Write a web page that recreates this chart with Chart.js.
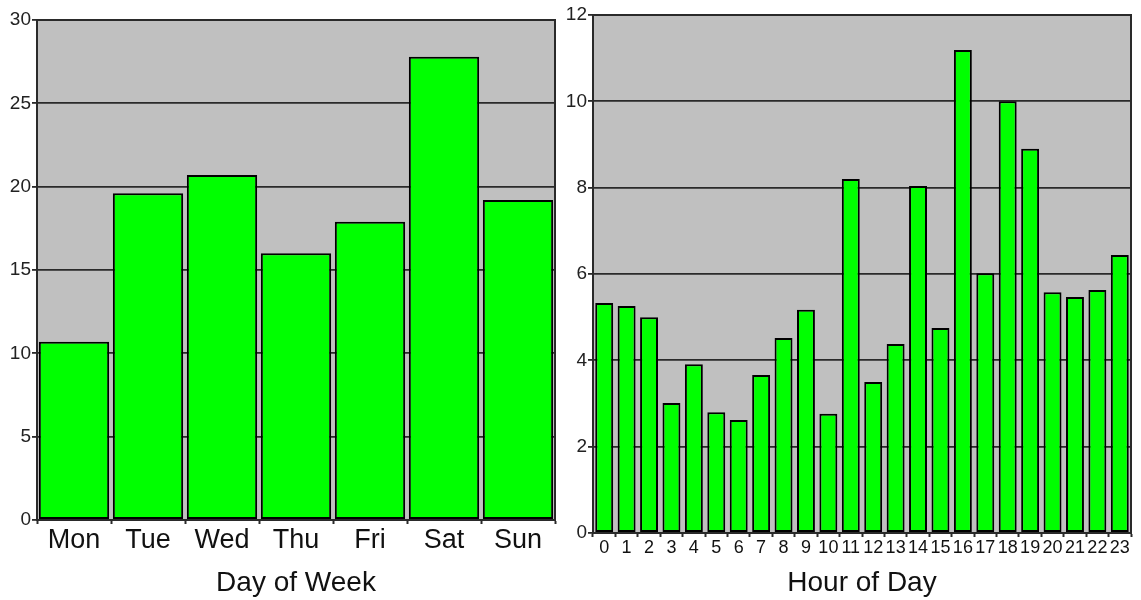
<!DOCTYPE html>
<html>
<head>
<meta charset="utf-8">
<script src="https://cdn.jsdelivr.net/npm/chart.js@4"></script>
<style>
  body { margin: 0; background: #fff; }
  .box { position: absolute; top: 0; height: 600px; }
  #left { left: 0; width: 565px; }
  #right { left: 565px; width: 576px; }
</style>
</head>
<body>
<div class="box" id="left"><canvas id="day-chart"></canvas></div>
<div class="box" id="right"><canvas id="hour-chart"></canvas></div>
<script>
// data
const dayLabels = ['Mon', 'Tue', 'Wed', 'Thu', 'Fri', 'Sat', 'Sun'];
const dayValues = [10.7, 19.6, 20.7, 16.0, 17.9, 27.8, 19.2];

const hourLabels = ['0', '1', '2', '3', '4', '5', '6', '7', '8', '9', '10', '11',
    '12', '13', '14', '15', '16', '17', '18', '19', '20', '21', '22', '23'];
const hourValues = [5.33, 5.26, 5.0, 3.01, 3.91, 2.8, 2.62, 3.66, 4.52, 5.17, 2.76, 8.2,
    3.5, 4.38, 8.04, 4.75, 11.19, 6.02, 10.0, 8.9, 5.58, 5.47, 5.63, 6.44];

// gray plot background + dark frame
const plotBackground = {
    id: 'plotBackground',
    beforeDraw(chart) {
        const { ctx, chartArea: a } = chart;
        ctx.save();
        ctx.fillStyle = '#c0c0c0';
        ctx.fillRect(a.left, a.top, a.right - a.left, a.bottom - a.top);
        ctx.restore();
    },
    afterDatasetsDraw(chart) {
        const { ctx, chartArea: a } = chart;
        ctx.save();
        ctx.strokeStyle = '#2a2a2a';
        ctx.lineWidth = 2;
        ctx.strokeRect(a.left, a.top, a.right - a.left, a.bottom - a.top);
        ctx.restore();
    }
};

function createBarChart(id, labels, values, opts) {
    const ctx = document.getElementById(id).getContext('2d');
    return new Chart(ctx, {
        type: 'bar',
        data: {
            labels: labels,
            datasets: [{
                data: values,
                backgroundColor: '#00ff00',
                borderColor: '#000',
                borderWidth: 2,
                borderSkipped: false,
                barPercentage: opts.barPct,
                categoryPercentage: 1
            }]
        },
        options: {
            responsive: true,
            maintainAspectRatio: false,
            animation: false,
            layout: { padding: { top: opts.top, right: opts.right, left: 0, bottom: 0 } },
            plugins: { legend: { display: false }, tooltip: { enabled: false } },
            scales: {
                x: {
                    grid: { drawOnChartArea: false, color: '#2a2a2a', tickLength: 4, tickWidth: 2 },
                    border: { color: '#2a2a2a', width: 2 },
                    ticks: {
                        autoSkip: false, maxRotation: 0, padding: 0,
                        color: '#111',
                        font: { family: 'Liberation Sans, Arial', size: opts.xFont }
                    },
                    title: {
                        display: true, text: opts.title, color: '#111', padding: { top: 4, bottom: 0 },
                        font: { family: 'Liberation Sans, Arial', size: 28 }
                    },
                    afterFit(scale) { scale.height = opts.xHeight; }
                },
                y: {
                    min: 0, max: opts.max,
                    grid: { color: '#2a2a2a', lineWidth: 1.8, tickLength: 5 },
                    border: { color: '#2a2a2a', width: 2 },
                    ticks: {
                        stepSize: opts.step, padding: 1,
                        color: '#222',
                        font: { family: 'Liberation Sans, Arial', size: 19 }
                    },
                    afterFit(scale) { scale.width = opts.yWidth; }
                }
            }
        },
        plugins: [plotBackground]
    });
}

createBarChart('day-chart', dayLabels, dayValues, {
    title: 'Day of Week', max: 30, step: 5, barPct: 0.95,
    xFont: 27, top: 20, right: 10, xHeight: 80, yWidth: 37
});

createBarChart('hour-chart', hourLabels, hourValues, {
    title: 'Hour of Day', max: 12, step: 2, barPct: 0.8,
    xFont: 18, top: 15, right: 10, xHeight: 67, yWidth: 28
});
</script>
</body>
</html>
